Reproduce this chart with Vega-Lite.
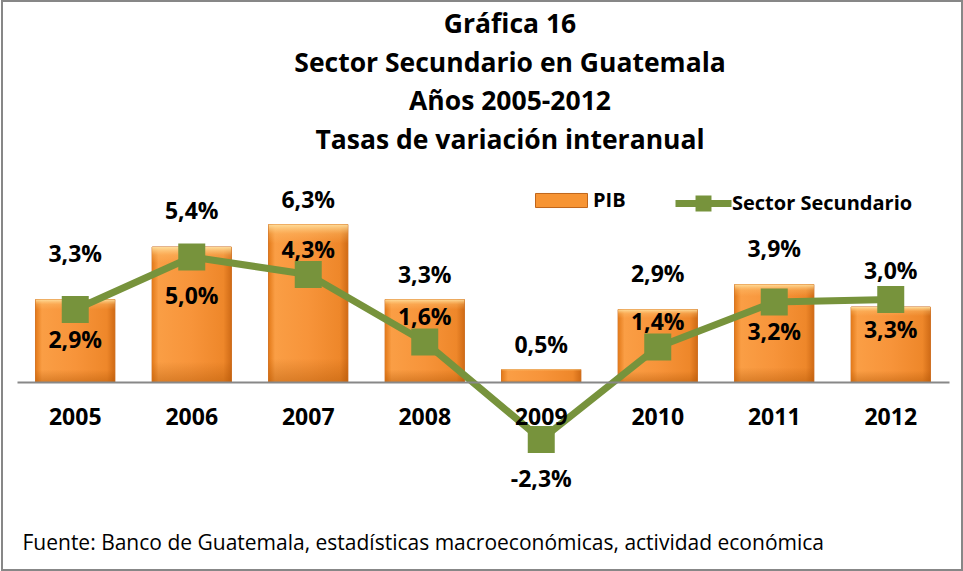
{
  "$schema": "https://vega.github.io/schema/vega-lite/v6.json",
  "autosize": "none",
  "width": 960,
  "height": 569,
  "padding": {"left": 2, "top": 1, "right": 1, "bottom": 1},
  "background": "white",
  "title": {
    "text": ["Gráfica 16", "Sector Secundario en Guatemala", "Años 2005-2012", "Tasas de variación interanual"],
    "anchor": "middle",
    "frame": "group",
    "offset": -174,
    "dx": 28,
    "font": "Open Sans",
    "fontSize": 26.5,
    "fontWeight": "bold",
    "lineHeight": 38.5,
    "color": "black",
    "baseline": "alphabetic"
  },
  "data": {
    "values": [
      {"year": "2005", "pib": 0.033, "sec": 0.029},
      {"year": "2006", "pib": 0.054, "sec": 0.050},
      {"year": "2007", "pib": 0.063, "sec": 0.043},
      {"year": "2008", "pib": 0.033, "sec": 0.016},
      {"year": "2009", "pib": 0.005, "sec": -0.023},
      {"year": "2010", "pib": 0.029, "sec": 0.014},
      {"year": "2011", "pib": 0.039, "sec": 0.032},
      {"year": "2012", "pib": 0.030, "sec": 0.033}
    ]
  },
  "encoding": {
    "x": {
      "field": "year",
      "type": "ordinal",
      "scale": {"type": "band", "range": [15, 947], "paddingInner": 0.32, "paddingOuter": 0.16},
      "axis": {
        "offset": -188,
        "zindex": 1,
        "ticks": false,
        "grid": false,
        "labelAngle": 0,
        "labelPadding": 24,
        "labelFont": "Open Sans",
        "labelFontWeight": "bold",
        "labelFontSize": 23,
        "labelColor": "black",
        "domainColor": "#888888",
        "domainWidth": 2,
        "title": "Fuente: Banco de Guatemala, estadísticas macroeconómicas, actividad económica",
        "titleFont": "Open Sans",
        "titleFontWeight": "normal",
        "titleFontSize": 21,
        "titleColor": "black",
        "titleAnchor": "start",
        "titleAlign": "left",
        "titleBaseline": "alphabetic",
        "titleLimit": 940,
        "titleX": 20,
        "titleY": 167
      }
    }
  },
  "layer": [
    {
      "mark": {"type": "bar", "stroke": "#C8661A", "strokeWidth": 1},
      "encoding": {
        "y": {"field": "pib", "type": "quantitative", "scale": {"domain": [-0.04, 0.08], "range": [481, 181], "nice": false, "zero": true}, "axis": null},
        "fill": {"datum": "PIB", "scale": {"range": ["#F79433"]}, "legend": {
          "orient": "none", "legendX": 533, "legendY": 173, "direction": "horizontal", "title": null,
          "symbolType": "M-1,-0.27H1V0.27H-1Z", "symbolSize": 2704, "symbolStrokeColor": "#C0651A", "symbolStrokeWidth": 1,
          "labelFont": "Open Sans", "labelFontWeight": "bold", "labelFontSize": 20, "labelColor": "black", "labelOffset": 5, "labelLimit": 300, "padding": 0
        }}
      }
    },
    {
      "mark": {"type": "bar", "color": {"gradient": "linear", "x1": 0, "x2": 1, "y1": 0, "y2": 0, "stops": [
        {"offset": 0, "color": "#E37A1A"}, {"offset": 0.08, "color": "#FA9E45"}, {"offset": 0.5, "color": "#F7943A"}, {"offset": 0.9, "color": "#EE872A"}, {"offset": 1, "color": "#D06B16"}
      ]}},
      "encoding": {"y": {"field": "pib", "type": "quantitative"}}
    },
    {
      "mark": {"type": "bar", "color": {"gradient": "linear", "x1": 0, "x2": 0, "y1": 0, "y2": 1, "stops": [
        {"offset": 0, "color": "rgba(255,225,160,0.95)"}, {"offset": 0.06, "color": "rgba(255,200,120,0.3)"}, {"offset": 0.12, "color": "rgba(255,200,120,0)"}, {"offset": 0.85, "color": "rgba(170,80,0,0)"}, {"offset": 1, "color": "rgba(170,80,0,0.4)"}
      ]}},
      "encoding": {"y": {"field": "pib", "type": "quantitative"}}
    },
    {
      "mark": {"type": "line", "strokeWidth": 7, "strokeJoin": "round"},
      "encoding": {
        "y": {"field": "sec", "type": "quantitative"},
        "stroke": {"datum": "Sector Secundario", "scale": {"range": ["#77933C"]}, "legend": {
          "orient": "none", "legendX": 670, "legendY": 171, "direction": "horizontal", "title": null,
          "symbolType": "M-1,0H1M-0.16,-0.16H0.16V0.16H-0.16Z", "symbolSize": 3136, "symbolStrokeWidth": 7,
          "labelFont": "Open Sans", "labelFontWeight": "bold", "labelFontSize": 20, "labelColor": "black", "labelOffset": -3, "labelLimit": 300, "padding": 0,
          "encode": {"symbols": {"update": {"fill": {"value": "#77933C"}, "stroke": {"value": "#77933C"}, "strokeWidth": {"value": 7}}}}
        }}
      }
    },
    {
      "mark": {"type": "point", "shape": "square", "filled": true, "size": 729, "color": "#77933C", "opacity": 1},
      "encoding": {"y": {"field": "sec", "type": "quantitative"}}
    },
    {
      "transform": [{"filter": {"field": "year", "oneOf": ["2007", "2008", "2009"]}}],
      "mark": {"type": "text", "font": "Open Sans", "fontWeight": "bold", "fontSize": 23, "color": "black", "baseline": "middle", "dy": -24},
      "encoding": {"y": {"field": "pib", "type": "quantitative"}, "text": {"field": "pib", "type": "quantitative", "format": ".1%"}}
    },
    {
      "transform": [{"filter": {"field": "year", "oneOf": ["2006", "2010", "2011", "2012"]}}],
      "mark": {"type": "text", "font": "Open Sans", "fontWeight": "bold", "fontSize": 23, "color": "black", "baseline": "middle", "dy": -35},
      "encoding": {"y": {"field": "pib", "type": "quantitative"}, "text": {"field": "pib", "type": "quantitative", "format": ".1%"}}
    },
    {
      "transform": [{"filter": {"field": "year", "oneOf": ["2005"]}}],
      "mark": {"type": "text", "font": "Open Sans", "fontWeight": "bold", "fontSize": 23, "color": "black", "baseline": "middle", "dy": -45},
      "encoding": {"y": {"field": "pib", "type": "quantitative"}, "text": {"field": "pib", "type": "quantitative", "format": ".1%"}}
    },
    {
      "transform": [{"filter": {"field": "year", "oneOf": ["2005", "2011", "2012"]}}],
      "mark": {"type": "text", "font": "Open Sans", "fontWeight": "bold", "fontSize": 23, "color": "black", "baseline": "middle", "dy": 31},
      "encoding": {"y": {"field": "sec", "type": "quantitative"}, "text": {"field": "sec", "type": "quantitative", "format": ".1%"}}
    },
    {
      "transform": [{"filter": {"field": "year", "oneOf": ["2006", "2009"]}}],
      "mark": {"type": "text", "font": "Open Sans", "fontWeight": "bold", "fontSize": 23, "color": "black", "baseline": "middle", "dy": 40},
      "encoding": {"y": {"field": "sec", "type": "quantitative"}, "text": {"field": "sec", "type": "quantitative", "format": ".1%"}}
    },
    {
      "transform": [{"filter": {"field": "year", "oneOf": ["2007", "2008", "2010"]}}],
      "mark": {"type": "text", "font": "Open Sans", "fontWeight": "bold", "fontSize": 23, "color": "black", "baseline": "middle", "dy": -24},
      "encoding": {"y": {"field": "sec", "type": "quantitative"}, "text": {"field": "sec", "type": "quantitative", "format": ".1%"}}
    }
  ],
  "resolve": {"scale": {"fill": "independent", "stroke": "independent"}},
  "config": {
    "view": {"stroke": "#878787", "strokeWidth": 2},
    "locale": {"number": {"decimal": ",", "thousands": ".", "grouping": [3], "currency": ["$", ""], "minus": "-"}}
  }
}
